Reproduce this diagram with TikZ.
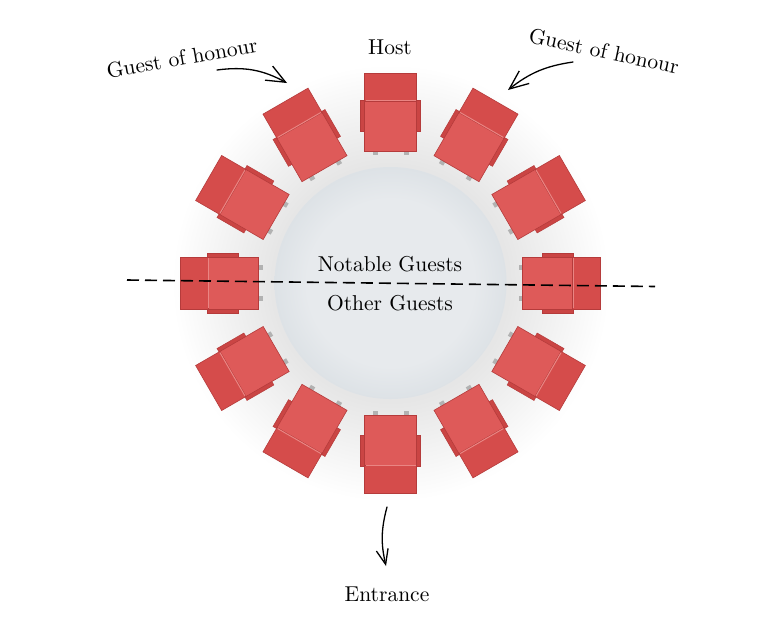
\documentclass[tikz,border=0pt]{standalone}
\usepackage{fontspec}
\setmainfont{lmroman10-regular.otf}
\usetikzlibrary{arrows.meta}
\definecolor{haloin}{HTML}{E6E6E6}
\definecolor{tabin}{HTML}{E7EAED}
\definecolor{tabout}{HTML}{DDE2E6}
\definecolor{chairred}{HTML}{DE5A59}
\definecolor{chairback}{HTML}{D54C4B}
\definecolor{chairarm}{HTML}{CA4544}
\definecolor{chairedge}{HTML}{B53B3B}
\definecolor{foldlight}{HTML}{EA8583}
\pgfdeclareradialshading{halo}{\pgfpoint{0bp}{0bp}}{color(0bp)=(haloin); color(13bp)=(haloin); color(18bp)=(haloin!55!white); color(24bp)=(white); color(50bp)=(white)}
\pgfdeclareradialshading{tableshade}{\pgfpoint{0bp}{0bp}}{color(0bp)=(tabin); color(18bp)=(tabin); color(25bp)=(tabout); color(50bp)=(tabout)}
\tikzset{
  seatpart/.style={fill=chairred, draw=chairedge, line width=0.6pt},
  backpart/.style={fill=chairback, draw=chairedge, line width=0.6pt},
  armpart/.style={fill=chairarm, draw=chairedge, line width=0.5pt},
  legpart/.style={fill=black!30, draw=none},
  foldline/.style={draw=foldlight, line width=1pt},
  labeltext/.style={font=\fontsize{21.5}{25}\selectfont, inner sep=0pt},
  guidearrow/.style={line width=1.3pt, line cap=round},
  divider/.style={line width=1.6pt, dash pattern=on 12pt off 6pt}
}
\newcommand\chairat[1]{%
  \begin{scope}[shift={(390.5,-283)}, rotate=#1-90]
    \fill[legpart] (-18,128) rectangle (-13,132);
    \fill[legpart] (13,128) rectangle (18,132);
    \draw[armpart] (-30,152) rectangle (-25,183);
    \draw[armpart] (25,152) rectangle (30,183);
    \draw[seatpart] (-26,132) rectangle (26,182);
    \draw[backpart] (-26,182) rectangle (26,210);
    \draw[foldline] (-25,182.5) -- (25,182.5);
  \end{scope}}
\begin{document}
\begin{tikzpicture}[x=1pt,y=1pt]
\useasboundingbox (0,0) rectangle (782,-619);
\fill[white] (0,0) rectangle (782,-619);
% halo shadow
\shade[shading=halo] (390.5,-283) circle (228);
% table
\node[circle, minimum size=232pt, inner sep=0pt, shading=tableshade] (table) at (390.5,-283) {};
% chairs
\foreach \a in {0,30,...,330} {\chairat{\a}}
% divider
\coordinate (divL) at (127,-280);
\coordinate (divR) at (655,-286.5);
\draw[divider] (divL) -- (divR);
% labels
\node[labeltext] (host) at (390,-47) {Host};
\node[labeltext] (notable) at (390,-264) {Notable Guests};
\node[labeltext] (other) at (390,-303) {Other Guests};
\node[labeltext] (entrance) at (387,-594) {Entrance};
\node[labeltext, rotate=10] (goh1) at (182,-58) {Guest of honour};
\node[labeltext, rotate=-12] (goh2) at (604,-51) {Guest of honour};
% arrows
\coordinate (a1s) at (217,-70);
\coordinate (a1e) at (287,-83);
\draw[guidearrow, -{Straight Barb[length=19pt,width=16pt,line width=1.3pt]}] (a1s) to[bend left=18] (a1e);
\coordinate (a2s) at (573,-62);
\coordinate (a2e) at (508,-90);
\draw[guidearrow, -{Straight Barb[length=19pt,width=16pt,line width=1.3pt]}] (a2s) to[bend right=15] (a2e);
\coordinate (a3s) at (387,-507);
\coordinate (a3e) at (386,-566);
\draw[guidearrow, -{Straight Barb[length=15pt,width=12pt,line width=1.3pt]}] (a3s) to[bend right=14] (a3e);
\end{tikzpicture}
\end{document}
